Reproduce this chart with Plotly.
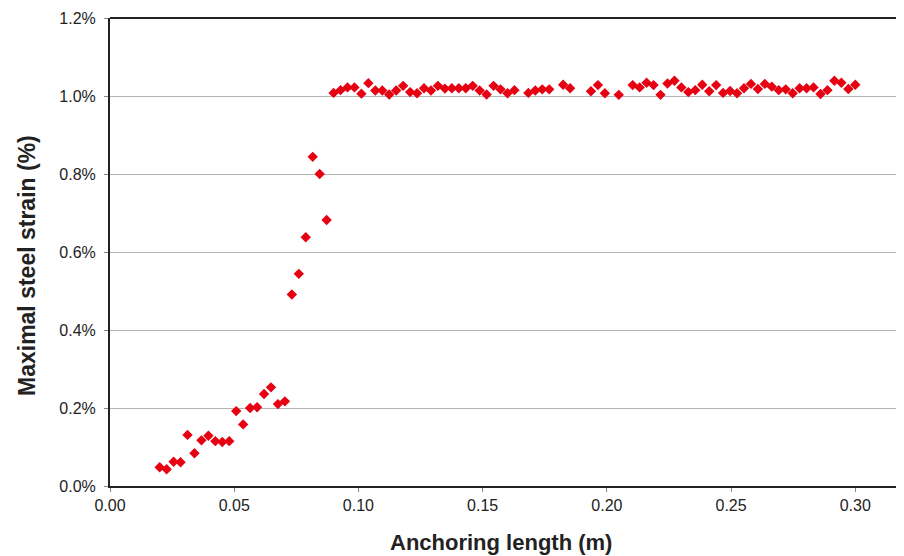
import plotly.graph_objects as go

anchoring_length_m = [
    0.0200, 0.0228, 0.0256, 0.0284, 0.0312, 0.0340, 0.0368, 0.0396, 0.0424, 0.0452,
    0.0480, 0.0508, 0.0536, 0.0564, 0.0592, 0.0620, 0.0648, 0.0676, 0.0704, 0.0732,
    0.0760, 0.0788, 0.0816, 0.0844, 0.0872, 0.0900, 0.0928, 0.0956, 0.0984, 0.1012,
    0.1040, 0.1068, 0.1096, 0.1124, 0.1152, 0.1180, 0.1208, 0.1236, 0.1264, 0.1292,
    0.1320, 0.1348, 0.1376, 0.1404, 0.1432, 0.1460, 0.1488, 0.1516, 0.1544, 0.1572,
    0.1600, 0.1628, 0.1684, 0.1712, 0.1740, 0.1768, 0.1824, 0.1852,
    0.1936, 0.1964, 0.1992, 0.2048,
    0.2104, 0.2132, 0.2160, 0.2188, 0.2216, 0.2244, 0.2272, 0.2300, 0.2328, 0.2356,
    0.2384, 0.2412, 0.2440, 0.2468, 0.2496, 0.2524, 0.2552, 0.2580, 0.2608, 0.2636,
    0.2664, 0.2692, 0.2720, 0.2748, 0.2776, 0.2804, 0.2832, 0.2860, 0.2888, 0.2916,
    0.2944, 0.2972, 0.3000,
]

max_steel_strain_pct = [
    0.048, 0.043, 0.062, 0.061, 0.131, 0.084, 0.117, 0.129, 0.115, 0.113,
    0.115, 0.192, 0.158, 0.200, 0.202, 0.236, 0.253, 0.210, 0.217, 0.491,
    0.544, 0.638, 0.844, 0.800, 0.682, 1.008, 1.015, 1.022, 1.022, 1.006,
    1.033, 1.014, 1.014, 1.004, 1.014, 1.026, 1.010, 1.007, 1.020, 1.014,
    1.026, 1.019, 1.020, 1.020, 1.020, 1.026, 1.014, 1.004, 1.026, 1.017,
    1.007, 1.015, 1.008, 1.014, 1.017, 1.017, 1.029, 1.020,
    1.012, 1.028, 1.007, 1.003,
    1.028, 1.022, 1.034, 1.028, 1.003, 1.032, 1.039, 1.022, 1.010, 1.015,
    1.029, 1.012, 1.028, 1.008, 1.013, 1.007, 1.020, 1.031, 1.018, 1.031,
    1.024, 1.015, 1.017, 1.007, 1.020, 1.020, 1.022, 1.005, 1.015, 1.039,
    1.034, 1.018, 1.029,
]

x_ticks = [0.00, 0.05, 0.10, 0.15, 0.20, 0.25, 0.30]
y_ticks = [0.0, 0.2, 0.4, 0.6, 0.8, 1.0, 1.2]
y_tick_labels = ["%.1f%%" % v for v in y_ticks]
x_tick_labels = ["%.2f" % v for v in x_ticks]

x_title = "Anchoring length (m)"
y_title = "Maximal steel strain (%)"

FONT = "Liberation Sans, Arial, sans-serif"
TXT = "#222222"

fig = go.Figure()
fig.add_trace(go.Scatter(
    x=anchoring_length_m,
    y=max_steel_strain_pct,
    mode="markers",
    marker=dict(symbol="diamond", size=8, color="#e60012", line=dict(width=0)),
    showlegend=False,
))

fig.update_layout(
    width=896, height=548,
    margin=dict(l=102, r=4, t=10, b=70),
    paper_bgcolor="white", plot_bgcolor="white",
    font=dict(family=FONT, color=TXT),
    xaxis=dict(
        range=[0, 0.318], tickvals=x_ticks, ticktext=x_tick_labels,
        showgrid=False, zeroline=False, automargin=False,
        showline=True, linecolor=TXT, linewidth=2,
        ticks="outside", ticklen=4, tickcolor="#888888",
        tickfont=dict(size=16, family=FONT, color=TXT),
    ),
    yaxis=dict(
        range=[0, 1.2], tickvals=y_ticks, ticktext=y_tick_labels,
        showgrid=True, gridcolor="#b4b4b4", gridwidth=1, zeroline=False, automargin=False,
        showline=True, linecolor=TXT, linewidth=2,
        ticks="outside", ticklen=4, tickcolor="#888888", ticklabelstandoff=5,
        tickfont=dict(size=16, family=FONT, color=TXT),
    ),
    shapes=[
        dict(type="line", xref="paper", yref="paper", x0=0, x1=1, y0=1, y1=1,
             line=dict(color=TXT, width=2)),
        dict(type="line", xref="paper", yref="paper", x0=1, x1=1, y0=0, y1=1,
             line=dict(color="#c8c8c8", width=1)),
    ],
    annotations=[
        dict(text="<b>%s</b>" % x_title, xref="paper", yref="paper",
             x=(501 - 110) / 790, y=-(542 - 486) / 468, xanchor="center", yanchor="middle",
             showarrow=False, font=dict(size=22, family=FONT, color=TXT)),
        dict(text="<b>%s</b>" % y_title, xref="paper", yref="paper", textangle=-90,
             x=-(110 - 27) / 790, y=(486 - 266) / 468, xanchor="center", yanchor="middle",
             showarrow=False, font=dict(size=23, family=FONT, color=TXT)),
    ],
)

fig.write_html("out.html")
